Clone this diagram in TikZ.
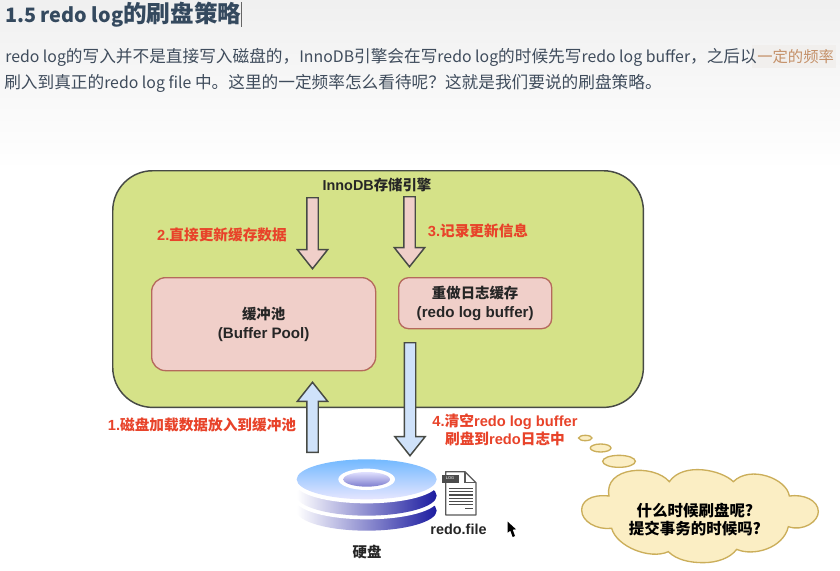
\documentclass[tikz,border=0pt]{standalone}
\usepackage{fontspec}
\setmainfont{Noto Sans CJK SC}
\newfontfamily\latf{Liberation Sans}
\newfontfamily\srcb[Scale=0.95]{Noto Sans CJK SC}
\newfontfamily\srch[Scale=0.84]{Noto Sans CJK SC}
\usetikzlibrary{shapes.arrows,shapes.geometric}
\definecolor{headc}{HTML}{34495E}
\definecolor{bodyc}{HTML}{3F4C5C}
\definecolor{hlc}{HTML}{C49068}
\definecolor{hlbg}{HTML}{F1EFED}
\definecolor{boxg}{HTML}{D5E288}
\definecolor{edged}{HTML}{474A45}
\definecolor{pinkf}{HTML}{F0CFC9}
\definecolor{pinke}{HTML}{B5695C}
\definecolor{bluef}{HTML}{CFE2FA}
\definecolor{redt}{HTML}{E8432A}
\definecolor{cloudf}{HTML}{FBEEC4}
\definecolor{cloude}{HTML}{CBAE5A}
\definecolor{darkb}{HTML}{1C1CA0}
\newcommand{\lat}[1]{{\latf #1}}
\newcommand{\latw}[1]{{\latf\fontsize{11.35pt}{13pt}\selectfont #1}}
\newcommand{\bo}[1]{{\srcb #1}}
\newcommand{\he}[1]{{\srch #1}}
\tikzset{
  blockarrow/.style={shape=single arrow,draw=edged,line width=1.1pt,inner sep=0pt,inner ysep=3.75pt,
    minimum width=21.75pt,single arrow head extend=7.1pt,single arrow head indent=0pt,
    single arrow tip angle=77,anchor=tail},
  pinkarrow/.style={blockarrow,fill=pinkf},
  bluearrow/.style={blockarrow,fill=bluef},
  innerbox/.style={draw=pinke,fill=pinkf,line width=1pt},
  redlabel/.style={text=redt,font=\fontsize{11pt}{13.5pt}\selectfont\bfseries,align=center,inner sep=0pt},
  blacklabel/.style={text=black!85,font=\fontsize{10.8pt}{13pt}\selectfont\bfseries,align=center,inner sep=0pt},
  bodytext/.style={text=bodyc,font=\fontsize{12.5pt}{15pt}\selectfont,anchor=base west,inner sep=0pt},
  bubble/.style={draw=cloude,fill=cloudf,line width=1pt}
}
\begin{document}
\begin{tikzpicture}[x=.75pt,y=-.75pt]
\useasboundingbox (0,0) rectangle (840,571);
\fill[white] (0,0) rectangle (840,571);
\shade[top color=black!6,bottom color=white] (0,0) rectangle (840,170);
% heading and paragraph
\node[anchor=base west,inner sep=0pt,text=headc,font=\fontsize{17.7pt}{20pt}\selectfont\bfseries] (head) at (5,22) {\he{1.5 redo log}的刷盘策略};
\draw[black!60,line width=.6pt] (241,2) -- (241,27);
\fill[hlbg] (752,45) rectangle (836,68);
\node[bodytext] (p1) at (5,62) {\bo{redo log}的写入并不是直接写入磁盘的，\bo{InnoDB}引擎会在写\bo{redo log}的时候先写\bo{redo log buffer}，之后以};
\node[bodytext,text=hlc,font=\fontsize{11.5pt}{14pt}\selectfont] (p1b) at (757,62) {一定的频率};
\node[bodytext] (p2) at (4,89) {刷入到真正的\bo{redo log file} 中。这里的一定频率怎么看待呢？这就是我们要说的刷盘策略。};
% engine box
\node[draw=edged,fill=boxg,line width=1.1pt,rounded corners=30pt,minimum width=398pt,minimum height=177.5pt,inner sep=0pt,anchor=north west] (engine) at (112,170) {};
\node[blacklabel] (enginet) at (377,185) {\lat{InnoDB}存储引擎};
\node[innerbox,rounded corners=10.5pt,minimum width=168pt,minimum height=69.75pt,inner sep=0pt,anchor=north west,blacklabel] (pool) at (151,277) {缓冲池\\[1pt]\latw{(Buffer Pool)}};
\node[innerbox,rounded corners=7.5pt,minimum width=114.75pt,minimum height=38.25pt,inner sep=0pt,anchor=north west,blacklabel] (rbuf) at (398,277) {重做日志缓存\\[1pt]\latw{(redo log buffer)}};
% arrows
\node[pinkarrow,rotate=-90,minimum height=53.25pt] (a2) at (312.5,197) {};
\node[pinkarrow,rotate=-90,minimum height=52.5pt] (a3) at (409.5,196) {};
\node[bluearrow,rotate=-90,minimum height=84.75pt] (a4) at (410,342) {};
\node[bluearrow,rotate=90,minimum height=52.5pt] (a1) at (312.5,453) {};
% labels
\node[redlabel] (l2) at (222,235) {\lat{2.}直接更新缓存数据};
\node[redlabel] (l3) at (478,231) {\lat{3.}记录更新信息};
\node[redlabel] (l4) at (505,429.5) {\lat{4.}清空\lat{redo log buffer}\\刷盘到\lat{redo}日志中};
\node[redlabel] (l1) at (202,425) {\lat{1.}磁盘加载数据放入到缓冲池};
% disk
\begin{scope}[shift={(280,400)},x=.25pt,y=-.25pt]
  \shade[left color=white,right color=darkb] (260,332) ellipse [x radius=210,y radius=60];
  \fill[white] (260,298) ellipse [x radius=214,y radius=60];
  \shade[left color=white,right color=darkb] (260,287) ellipse [x radius=210,y radius=60];
  \fill[white] (260,250) ellipse [x radius=214,y radius=60];
  \shade[top color=blue!50!cyan!55,bottom color=blue!10!white] (260,238) ellipse [x radius=210,y radius=60];
  \fill[white] (260,238) ellipse [x radius=85,y radius=32];
  \shade[top color=blue!12!white,bottom color=blue!45!gray!70] (260,238) ellipse [x radius=70,y radius=22];
  % file icon
  \draw[black!65,fill=white,line width=.9pt,line join=round] (497,215) -- (555,215) -- (588,248) -- (588,345) -- (497,345) -- cycle;
  \draw[black!65,line width=.9pt] (555,215) -- (555,248) -- (588,248);
  \fill[black!70] (485,225) rectangle (538,248);
  \foreach \yy in {265,275,285,295,305,313} \draw[black!70,line width=.8pt] (507,\yy) -- (578,\yy);
  \draw[black!70,line width=.8pt] (555,325) -- (578,325);
  % cursor
  \fill[black] (683,365) -- (683,398) -- (691,392) -- (698,411) -- (705,408) -- (698,389) -- (708,388) -- cycle;
\end{scope}
\node[text=white,inner sep=0pt,font=\fontsize{3pt}{3pt}\selectfont\latf] (logt) at (450,478) {LOG};
\node[blacklabel] (disk) at (367,552) {硬盘};
\node[blacklabel] (redof) at (458.5,529) {\lat{redo.file}};
% thought bubble
\begin{scope}[shift={(540,420)},x=.25pt,y=-.25pt]
  \draw[bubble] (136,54) ellipse [x radius=20,y radius=8];
  \draw[bubble] (182,84) ellipse [x radius=31,y radius=12];
  \draw[bubble] (237,124) ellipse [x radius=49,y radius=18];
  \draw[bubble] (207,228) .. controls (150,222) and (125,245) .. (125,270)
    .. controls (125,305) and (170,330) .. (215,325)
    .. controls (230,380) and (330,420) .. (385,395)
    .. controls (410,420) and (450,428) .. (490,428)
    .. controls (530,428) and (570,415) .. (590,388)
    .. controls (640,410) and (730,385) .. (745,320)
    .. controls (790,335) and (835,305) .. (835,275)
    .. controls (835,240) and (790,222) .. (748,228)
    .. controls (740,175) and (630,135) .. (580,185)
    .. controls (545,150) and (430,125) .. (388,185)
    .. controls (340,130) and (190,140) .. (207,228) -- cycle;
\end{scope}
\node[text=black,font=\fontsize{11.6pt}{13.6pt}\selectfont\bfseries,align=center,inner sep=0pt] (q) at (695,520) {什么时候刷盘呢?\\提交事务的时候吗?};
\end{tikzpicture}
\end{document}
